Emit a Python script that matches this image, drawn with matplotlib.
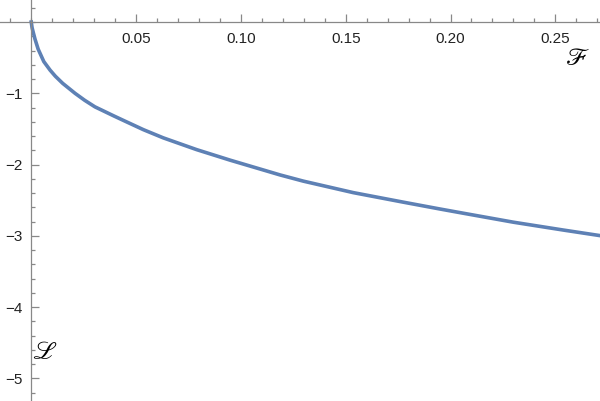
import matplotlib.pyplot as plt
import numpy as np

# curve
F = [0.0, 0.0004, 0.0010, 0.0018, 0.0033, 0.0060, 0.0090, 0.0115, 0.0150,
     0.0209, 0.0255, 0.0304, 0.0396, 0.0447, 0.0535, 0.0630, 0.0789,
     0.0948, 0.1187, 0.1298, 0.1536, 0.1775, 0.1950, 0.2061, 0.2300,
     0.2538, 0.2713]
L = [0.0, -0.080, -0.150, -0.240, -0.380, -0.555, -0.675, -0.760, -0.860,
     -1.000, -1.098, -1.190, -1.320, -1.390, -1.510, -1.625, -1.790,
     -1.937, -2.145, -2.232, -2.393, -2.527, -2.623, -2.682, -2.808,
     -2.918, -2.996]

xticks = [0.05, 0.10, 0.15, 0.20, 0.25]
xticklabels = ["0.05", "0.10", "0.15", "0.20", "0.25"]
yticks = [-1, -2, -3, -4, -5]
yticklabels = ["\u22121", "\u22122", "\u22123", "\u22124", "\u22125"]

plt.rcParams['font.family'] = ['Liberation Sans', 'DejaVu Sans']
plt.rcParams['mathtext.fontset'] = 'stix'

fig = plt.figure(figsize=(6, 4.01), dpi=100)
ax = fig.add_axes([0, 0, 1, 1])

ax.plot(F, L, color='#5E81B5', lw=2.6, solid_joinstyle='round')

ax.set_xlim(-0.0149, 0.2713)
ax.set_ylim(-5.316, 0.309)

for s in ['top', 'right']:
    ax.spines[s].set_visible(False)
ax.spines['left'].set_position(('data', 0))
ax.spines['bottom'].set_position(('data', 0))
for s in ['left', 'bottom']:
    ax.spines[s].set_color('#888888')
    ax.spines[s].set_linewidth(0.9)

ax.set_xticks(xticks)
ax.set_xticklabels(xticklabels)
ax.set_xticks(np.arange(-0.01, 0.275, 0.01), minor=True)
ax.set_yticks(yticks)
ax.set_yticklabels(yticklabels)
ax.set_yticks(np.arange(-5.2, 0.3, 0.2), minor=True)

ax.tick_params(which='both', direction='in', color='#888888', width=0.9,
               labelsize=11, labelcolor='#222222')
ax.tick_params(which='major', length=5.5)
ax.tick_params(which='minor', length=3)
ax.tick_params(axis='x', which='major', pad=7)
ax.tick_params(axis='y', which='major', pad=6)

ax.text(0.963, 0.855, r'$\mathscr{F}$', transform=ax.transAxes,
        fontsize=18, ha='center', va='center')
ax.text(0.075, 0.122, r'$\mathscr{L}$', transform=ax.transAxes,
        fontsize=18, ha='center', va='center')

fig.savefig('out.png', dpi=100)
